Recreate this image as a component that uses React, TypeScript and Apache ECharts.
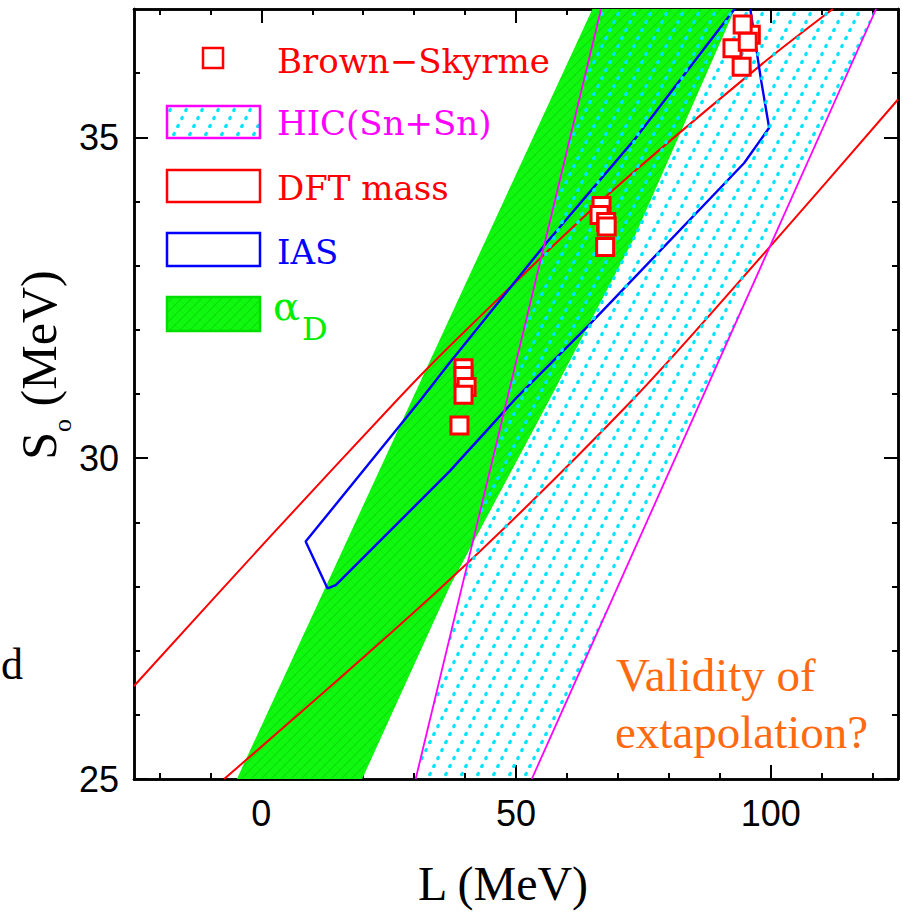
import React, { useEffect, useRef } from 'react';
import * as echarts from 'echarts';

// ---------- data ----------
const X_MIN = -25;
const X_MAX = 125;
const Y_MIN = 25;
const Y_MAX = 37;

const xMajorTicks = [0, 50, 100];
const xMinorTicks = [-20, -10, 10, 20, 30, 40, 60, 70, 80, 90, 110, 120];
const yMajorTicks = [25, 30, 35];
const yMinorTicks = [26, 27, 28, 29, 31, 32, 33, 34, 36];

// Brown-Skyrme points [L, S0]
const brownSkyrme: [number, number][] = [
  [39.7, 31.40], [39.7, 31.28], [40.3, 31.11], [39.7, 30.99], [38.9, 30.51],
  [66.8, 33.93], [66.4, 33.79], [67.7, 33.68], [67.8, 33.61], [67.5, 33.29],
  [96.1, 36.60], [94.5, 36.76], [92.5, 36.39], [95.5, 36.49], [94.3, 36.10],
];

// alpha_D band (filled polygon)
const alphaD: [number, number][] = [
  [-4.8, 25], [65, 37], [93, 37], [73, 33.4], [56.5, 30.9], [37, 28], [19.8, 25],
];

// HIC(Sn+Sn) band
const hicBand: [number, number][] = [[30.3, 25], [66.7, 37], [120.7, 37], [53.1, 25]];
const hicLeft: [number, number][] = [[30.3, 25], [66.7, 37]];
const hicRight: [number, number][] = [[53.1, 25], [120.7, 37]];

// DFT mass contour (two branches)
const dftUpper: [number, number][] = [
  [-25, 26.45], [2, 28.8], [26.7, 30.91], [36.9, 31.74], [67.7, 34.08], [97.8, 36.11], [112.2, 37],
];
const dftLower: [number, number][] = [
  [-7.3, 25], [36.9, 28.1], [72.9, 30.91], [98.8, 33.2], [125, 35.59],
];

// IAS contour
const ias: [number, number][] = [
  [92.9, 37], [73.2, 34.96], [55.9, 33.35], [36.9, 31.48], [31.3, 30.91], [8.7, 28.7],
  [13.0, 27.97], [14.6, 28.02], [36.9, 29.79], [50.3, 30.96], [64.4, 32.08],
  [94.8, 34.6], [99.7, 35.15], [98.1, 35.9], [96.0, 37],
];

// ---------- helpers ----------
function makeDots(): any {
  const c = document.createElement('canvas');
  c.width = 16;
  c.height = 32;
  const ctx = c.getContext('2d')!;
  ctx.fillStyle = '#00e4ff';
  const pts = [[2, 30], [6, 22], [10, 14], [14, 6]];
  for (const [x, y] of pts) {
    ctx.beginPath();
    ctx.ellipse(x, y, 1.7, 2.3, 0.45, 0, Math.PI * 2);
    ctx.fill();
  }
  return { image: c.toDataURL(), repeat: 'repeat', imageWidth: 16, imageHeight: 32 };
}

function makeHatch(): any {
  const c = document.createElement('canvas');
  c.width = 10;
  c.height = 10;
  const ctx = c.getContext('2d')!;
  ctx.fillStyle = '#10f810';
  ctx.fillRect(0, 0, 10, 10);
  ctx.strokeStyle = 'rgba(0,190,0,0.4)';
  ctx.lineWidth = 1.2;
  const segs = [[0, 10, 10, 0], [-1, 1, 1, -1], [9, 11, 11, 9]];
  for (const [a, b, d, e] of segs) {
    ctx.beginPath();
    ctx.moveTo(a, b);
    ctx.lineTo(d, e);
    ctx.stroke();
  }
  ctx.strokeStyle = 'rgba(0,200,0,0.18)';
  ctx.lineWidth = 1;
  const segs2 = [[0, 0, 10, 10], [-1, 9, 1, 11], [9, -1, 11, 1]];
  for (const [a, b, d, e] of segs2) {
    ctx.beginPath();
    ctx.moveTo(a, b);
    ctx.lineTo(d, e);
    ctx.stroke();
  }
  return { image: c.toDataURL(), repeat: 'repeat', imageWidth: 10, imageHeight: 10 };
}

const tickFont = { fontFamily: 'Liberation Sans', fontSize: 36, color: '#000' };
const frameLine = { color: '#000', width: 2.5 };

function mkX(position: string, ticks: number[], len: number, withLabel: boolean, extra: any = {}) {
  return {
    type: 'value',
    position,
    min: X_MIN,
    max: X_MAX,
    axisLine: { show: true, onZero: false, lineStyle: frameLine },
    axisTick: { show: true, inside: true, length: len, customValues: ticks, lineStyle: { color: '#000', width: 2 } },
    axisLabel: withLabel ? { show: true, customValues: ticks, margin: 16, ...tickFont } : { show: false },
    splitLine: { show: false },
    ...extra,
  };
}

function mkY(position: string, ticks: number[], len: number, withLabel: boolean, extra: any = {}) {
  return {
    type: 'value',
    position,
    min: Y_MIN,
    max: Y_MAX,
    axisLine: { show: true, onZero: false, lineStyle: frameLine },
    axisTick: { show: true, inside: true, length: len, customValues: ticks, lineStyle: { color: '#000', width: 2 } },
    axisLabel: withLabel ? { show: true, customValues: ticks, margin: 15, ...tickFont } : { show: false },
    splitLine: { show: false },
    ...extra,
  };
}

function polyRender(pts: [number, number][], fill: any) {
  return (params: any, api: any) => {
    if (params.dataIndex !== 0) return null;
    return {
      type: 'polygon',
      shape: { points: pts.map((p) => api.coord(p)) },
      style: { fill, stroke: 'none' },
    };
  };
}

export default function App() {
  const ref = useRef<HTMLDivElement>(null);

  useEffect(() => {
    const chart = echarts.init(ref.current!, null, { renderer: 'svg' });
    const dots = makeDots();
    const hatch = makeHatch();

    const legendFont = 'DejaVu Serif';

    const option: any = {
      animation: false,
      backgroundColor: '#fff',
      grid: { left: 134, right: 5, top: 9, bottom: 139, containLabel: false, outerBoundsMode: 'none' },
      xAxis: [
        mkX('bottom', xMajorTicks, 14, true, {
          name: 'L (MeV)',
          nameLocation: 'middle',
          nameGap: 80,
          nameMoveOverlap: false,
          nameTextStyle: { fontFamily: 'Liberation Serif', fontSize: 48, color: '#000', padding: [0, 26, 0, 0] },
        }),
        mkX('bottom', xMinorTicks, 6, false),
        mkX('top', xMajorTicks, 14, false),
        mkX('top', xMinorTicks, 6, false),
      ],
      yAxis: [
        mkY('left', yMajorTicks, 14, true, {
          name: '{s|S}{o|o}{s| (MeV)}',
          nameLocation: 'middle',
          nameGap: 24,
          nameRotate: 90,
          nameMoveOverlap: false,
          nameTextStyle: {
            color: '#000',
            padding: [0, 0, 0, 58],
            rich: {
              s: { fontFamily: 'Liberation Serif', fontSize: 50, lineHeight: 50, verticalAlign: 'top', color: '#000' },
              o: { fontFamily: 'Liberation Serif', fontSize: 26, lineHeight: 96, verticalAlign: 'middle', color: '#000' },
            },
          },
        }),
        mkY('left', yMinorTicks, 6, false),
        mkY('right', yMajorTicks, 14, false),
        mkY('right', yMinorTicks, 6, false),
      ],
      series: [
        {
          type: 'custom',
          name: 'αD',
          z: 1,
          silent: true,
          data: alphaD,
          renderItem: polyRender(alphaD, hatch),
        },
        {
          type: 'line',
          name: 'DFT mass',
          data: dftUpper,
          smooth: 0.3,
          symbol: 'none',
          silent: true,
          lineStyle: { color: '#ff0000', width: 2 },
          z: 2,
        },
        {
          type: 'line',
          name: 'DFT mass',
          data: dftLower,
          smooth: 0.3,
          symbol: 'none',
          silent: true,
          lineStyle: { color: '#ff0000', width: 2 },
          z: 2,
        },
        {
          type: 'line',
          name: 'IAS',
          data: ias,
          symbol: 'none',
          silent: true,
          lineStyle: { color: '#0000ff', width: 2.4 },
          z: 2,
        },
        {
          type: 'custom',
          name: 'HIC(Sn+Sn)',
          z: 3,
          silent: true,
          data: hicBand,
          renderItem: polyRender(hicBand, dots),
        },
        {
          type: 'line',
          name: 'HIC(Sn+Sn)',
          data: hicLeft,
          symbol: 'none',
          silent: true,
          lineStyle: { color: '#ff00ff', width: 1.8 },
          z: 4,
        },
        {
          type: 'line',
          name: 'HIC(Sn+Sn)',
          data: hicRight,
          symbol: 'none',
          silent: true,
          lineStyle: { color: '#ff00ff', width: 1.8 },
          z: 4,
        },
        {
          type: 'scatter',
          name: 'Brown-Skyrme',
          data: brownSkyrme,
          symbol: 'rect',
          symbolSize: 17,
          silent: true,
          itemStyle: { color: '#ffffff', borderColor: '#ff0000', borderWidth: 3, opacity: 1 },
          z: 5,
        },
      ],
      graphic: [
        // legend
        { type: 'rect', z: 100, shape: { x: 203, y: 48, width: 20, height: 20 }, style: { fill: '#fff', stroke: '#ff0000', lineWidth: 2.5 } },
        { type: 'text', z: 100, x: 277, y: 60.5, style: { text: 'Brown−Skyrme', fill: '#ff0000', fontFamily: legendFont, fontSize: 34, verticalAlign: 'middle', align: 'left' } },

        { type: 'rect', z: 100, shape: { x: 167, y: 106, width: 93, height: 32 }, style: { fill: dots, stroke: '#ff00ff', lineWidth: 2.5 } },
        { type: 'text', z: 100, x: 277, y: 123, style: { text: 'HIC(Sn+Sn)', fill: '#ff00ff', fontFamily: legendFont, fontSize: 34, verticalAlign: 'middle', align: 'left' } },

        { type: 'rect', z: 100, shape: { x: 167, y: 170, width: 93, height: 32 }, style: { fill: '#fff', stroke: '#ff0000', lineWidth: 2.5 } },
        { type: 'text', z: 100, x: 277, y: 187.5, style: { text: 'DFT mass', fill: '#ff0000', fontFamily: legendFont, fontSize: 34, verticalAlign: 'middle', align: 'left' } },

        { type: 'rect', z: 100, shape: { x: 167, y: 233, width: 93, height: 33 }, style: { fill: '#fff', stroke: '#0000ff', lineWidth: 2.5 } },
        { type: 'text', z: 100, x: 277, y: 251.5, style: { text: 'IAS', fill: '#0000ff', fontFamily: legendFont, fontSize: 34, verticalAlign: 'middle', align: 'left' } },

        { type: 'rect', z: 100, shape: { x: 167, y: 297, width: 93, height: 34 }, style: { fill: hatch, stroke: '#00dd00', lineWidth: 2.5 } },
        { type: 'text', z: 100, x: 273, y: 306, style: { text: 'α', fill: '#00ee00', fontFamily: legendFont, fontSize: 40, verticalAlign: 'middle', align: 'left' } },
        { type: 'text', z: 100, x: 302, y: 328.5, style: { text: 'D', fill: '#00ee00', fontFamily: legendFont, fontSize: 32, verticalAlign: 'middle', align: 'left' } },

        // annotation
        { type: 'text', z: 100, x: 616, y: 675, style: { text: 'Validity of', fill: '#ff6a10', fontFamily: 'Liberation Serif', fontSize: 47, verticalAlign: 'middle', align: 'left' } },
        { type: 'text', z: 100, x: 615, y: 732, style: { text: 'extapolation?', fill: '#ff6a10', fontFamily: 'Liberation Serif', fontSize: 47, verticalAlign: 'middle', align: 'left' } },

        // slide text fragment at left edge
        { type: 'text', z: 100, x: 1, y: 664, style: { text: 'd', fill: '#000', fontFamily: 'Liberation Serif', fontSize: 44, verticalAlign: 'middle', align: 'left' } },
      ],
    };

    chart.setOption(option);
    return () => chart.dispose();
  }, []);

  return (
    <div
      ref={ref}
      style={{ position: 'absolute', left: 0, top: 0, width: 903, height: 918, background: '#fff' }}
    />
  );
}
